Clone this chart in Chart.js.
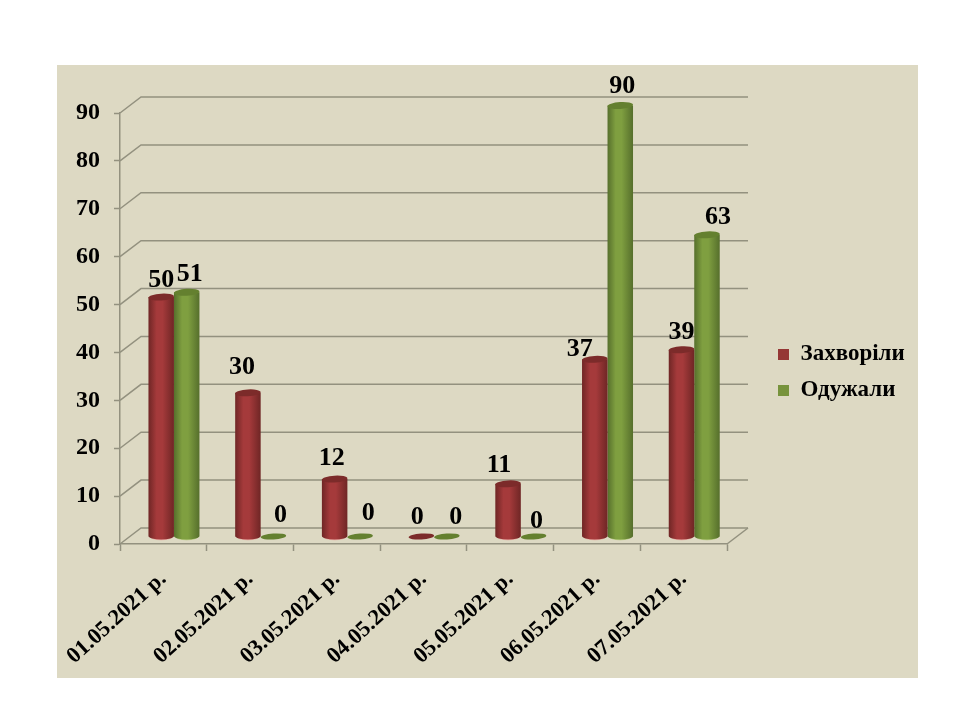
<!DOCTYPE html>
<html><head><meta charset="utf-8">
<style>html,body{margin:0;padding:0;background:#fff}#w{width:960px;height:720px}</style>
<script src="https://cdn.jsdelivr.net/npm/chart.js@4"></script>
</head><body><div id="w"><canvas id="c" width="960" height="720"></canvas></div>
<script>
const categories = ['01.05.2021 р.','02.05.2021 р.','03.05.2021 р.','04.05.2021 р.','05.05.2021 р.','06.05.2021 р.','07.05.2021 р.'];
const sick = [50,30,12,0,11,37,39];
const recovered = [51,0,0,0,0,90,63];
const seriesNames = ['Захворіли','Одужали'];
const FONT = '"Liberation Serif","Times New Roman",serif';
const GRID = '#93917f', DEPTH = {x:21,y:-16}, MID = {x:10.6,y:-7.5};
const skins = [
  {edge:'#6f2625',mid:'#a53a3b',top:'#7c2b2a',foot:'#e6aaa2'},
  {edge:'#566f2c',mid:'#7f9f40',top:'#64802f',foot:'#b5c97e'}
];
const labelNudge = [
  [[0,-16.5],[-6,-25.5],[-3,-20.5],[-4,-19.5],[-9,-18.5],[-15,-10.5],[0,-17.5]],
  [[3,-17.5],[7,-21.5],[8,-23.5],[9,-19.5],[3,-15.5],[2,-19.5],[11,-17.5]]
];
const TILT = -0.06;
const scene = {
  id:'scene',
  beforeDraw(ch){const c=ch.ctx;c.save();c.fillStyle='#DDD9C3';c.fillRect(57,65,861,613);c.restore();},
  afterLayout(ch){const l=ch.legend;l.left=765;l.right=935;l.top=330;l.bottom=470;l.width=170;l.height=140;},
  beforeDatasetsDraw(ch){
    const c=ch.ctx,{left,right,bottom}=ch.chartArea,y=ch.scales.y;
    c.save();c.lineWidth=1.5;c.strokeStyle=GRID;
    y.ticks.forEach(t=>{const p=y.getPixelForValue(t.value);
      c.beginPath();c.moveTo(left,p);c.lineTo(left+DEPTH.x,p+DEPTH.y);c.lineTo(right+DEPTH.x,p+DEPTH.y);c.stroke();});
    c.beginPath();c.moveTo(right,bottom);c.lineTo(right+DEPTH.x,bottom+DEPTH.y);c.stroke();
    c.restore();
  },
  beforeDatasetDraw(ch,a){
    const c=ch.ctx,skin=skins[a.index],meta=ch.getDatasetMeta(a.index);
    meta.data.forEach(el=>{
      const cx=el.x+MID.x,top=el.y+MID.y,base=el.base+MID.y,rx=el.width/2,ry=3.4;
      c.save();
      if(base-top>1){
        c.fillStyle=skin.foot;c.beginPath();c.ellipse(cx,base+.8,rx-1.5,ry,0,0,Math.PI*2);c.fill();
        const g=c.createLinearGradient(cx-rx,0,cx+rx,0);
        g.addColorStop(0,skin.edge);g.addColorStop(.32,skin.mid);g.addColorStop(.55,skin.mid);g.addColorStop(1,skin.edge);
        c.fillStyle=g;c.beginPath();c.moveTo(cx-rx,top);c.lineTo(cx-rx,base);
        c.ellipse(cx,base,rx,ry,0,Math.PI,0,true);c.lineTo(cx+rx,top);c.closePath();c.fill();
        c.fillStyle=skin.top;
        c.beginPath();c.ellipse(cx,top,rx,ry,TILT,0,Math.PI*2);c.fill();
      }else{
        c.fillStyle=skin.top;c.beginPath();c.ellipse(cx,top,rx,ry-.4,TILT,0,Math.PI*2);c.fill();
      }
      c.restore();
    });
    return false;
  },
  afterDatasetsDraw(ch){
    const c=ch.ctx;c.save();c.font='bold 26px '+FONT;c.fillStyle='#000';c.textAlign='center';c.textBaseline='middle';
    ch.data.datasets.forEach((d,i)=>ch.getDatasetMeta(i).data.forEach((el,j)=>{
      const n=labelNudge[i][j];
      c.fillText(String(d.data[j]),el.x+MID.x+n[0],el.y+MID.y+n[1]);
    }));
    c.restore();
  }
};
new Chart(document.getElementById('c'),{
  type:'bar',
  data:{labels:categories,datasets:[
    {label:seriesNames[0],data:sick,backgroundColor:'#953735',borderWidth:0},
    {label:seriesNames[1],data:recovered,backgroundColor:'#77933C',borderWidth:0}
  ]},
  plugins:[scene],
  options:{
    responsive:false,animation:false,
    layout:{padding:{left:50,right:233,top:113,bottom:40}},
    datasets:{bar:{barPercentage:1,categoryPercentage:.588}},
    plugins:{tooltip:{enabled:false},
      legend:{position:'chartArea',align:'start',labels:{boxWidth:11,boxHeight:11,padding:13,color:'#000',font:{family:FONT,size:23,weight:'bold'}}}},
    scales:{
      x:{afterFit(s){s.height=136},
        grid:{drawOnChartArea:false,color:GRID,tickLength:7,tickWidth:1.5},
        border:{color:GRID,width:1.5},
        ticks:{minRotation:42,maxRotation:42,padding:15,color:'#000',font:{family:FONT,size:22.5,weight:'bold'}}},
      y:{min:0,max:90,afterFit(s){s.width=70},
        grid:{drawOnChartArea:false,color:GRID,tickLength:6,tickWidth:1.5},
        border:{color:GRID,width:1.5},
        ticks:{stepSize:10,padding:14,color:'#000',font:{family:FONT,size:24,weight:'bold'}}}
    }
  }
});
</script></body></html>
